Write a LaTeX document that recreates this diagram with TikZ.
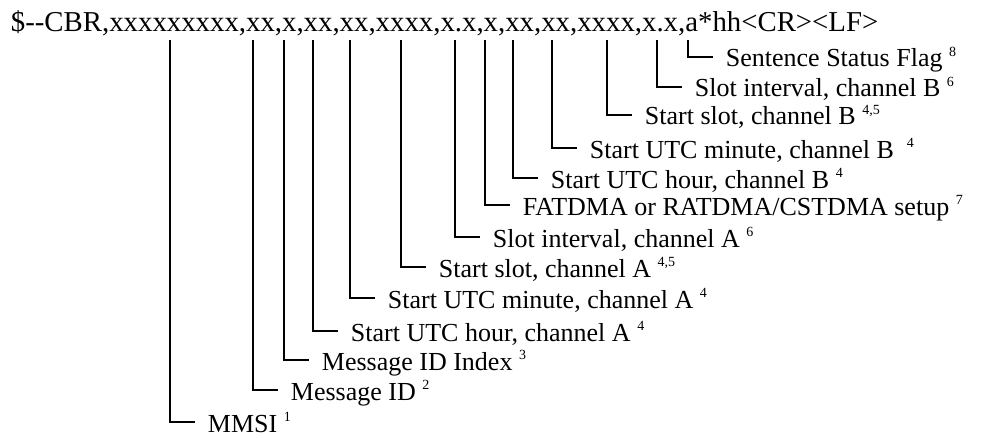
\documentclass[tikz,border=0pt]{standalone}
\usepackage{fontspec}
\setmainfont{Liberation Serif}
\newcommand\fnote[1]{\raisebox{0.42em}{\fontsize{14}{14}\selectfont #1}}

\begin{document}
\begin{tikzpicture}[x=1pt,y=1pt,line width=1.8pt]
\tikzstyle{every node}+=[inner sep=0pt]
\tikzstyle{lbl}=[anchor=west,inner xsep=12pt,text height=20pt,text depth=0pt,font=\fontsize{26}{28}\selectfont]
\useasboundingbox[fill=white] (0,0) rectangle (981,437);
% sentence
\node[anchor=base west,font=\fontsize{28.8}{30}\selectfont] (nmea) at (10,405)
  {\$-{}-CBR,xxxxxxxxx,xx,x,xx,xx,xxxx,x.x,x,xx,xx,xxxx,x.x,a*hh<CR><LF>};
% field marks under the sentence
\coordinate (f1) at (170,397);
\coordinate (f2) at (253,397);
\coordinate (f3) at (284,397);
\coordinate (f4) at (313,397);
\coordinate (f5) at (350,397);
\coordinate (f6) at (401,397);
\coordinate (f7) at (455,397);
\coordinate (f8) at (485,397);
\coordinate (f9) at (513,397);
\coordinate (f10) at (552,397);
\coordinate (f11) at (607,397);
\coordinate (f12) at (657,397);
\coordinate (f13) at (688,397);
% field names
\node[lbl] (mmsi) at (195,15) {MMSI~\fnote{1}};
\node[lbl] (msgid) at (278,47) {Message ID~\fnote{2}};
\node[lbl] (msgidx) at (309,77) {Message ID Index~\fnote{3}};
\node[lbl] (hourA) at (338,106) {Start UTC hour, channel A~\fnote{4}};
\node[lbl] (minA) at (375,139) {Start UTC minute, channel A~\fnote{4}};
\node[lbl] (slotA) at (426,170) {Start slot, channel A~\fnote{4,5}};
\node[lbl] (intA) at (480,200) {Slot interval, channel A~\fnote{6}};
\node[lbl] (setup) at (510,232) {FATDMA or RATDMA/CSTDMA setup~\fnote{7}};
\node[lbl] (hourB) at (538,259) {Start UTC hour, channel B~\fnote{4}};
\node[lbl] (minB) at (577,289) {Start UTC minute, channel B~~\fnote{4}};
\node[lbl] (slotB) at (632,322) {Start slot, channel B~\fnote{4,5}};
\node[lbl] (intB) at (682,350) {Slot interval, channel B~\fnote{6}};
\node[lbl] (flag) at (713,380) {Sentence Status Flag~\fnote{8}};
% leaders
\draw (f1) |- (mmsi.west);
\draw (f2) |- (msgid.west);
\draw (f3) |- (msgidx.west);
\draw (f4) |- (hourA.west);
\draw (f5) |- (minA.west);
\draw (f6) |- (slotA.west);
\draw (f7) |- (intA.west);
\draw (f8) |- (setup.west);
\draw (f9) |- (hourB.west);
\draw (f10) |- (minB.west);
\draw (f11) |- (slotB.west);
\draw (f12) |- (intB.west);
\draw (f13) |- (flag.west);
\end{tikzpicture}
\end{document}
